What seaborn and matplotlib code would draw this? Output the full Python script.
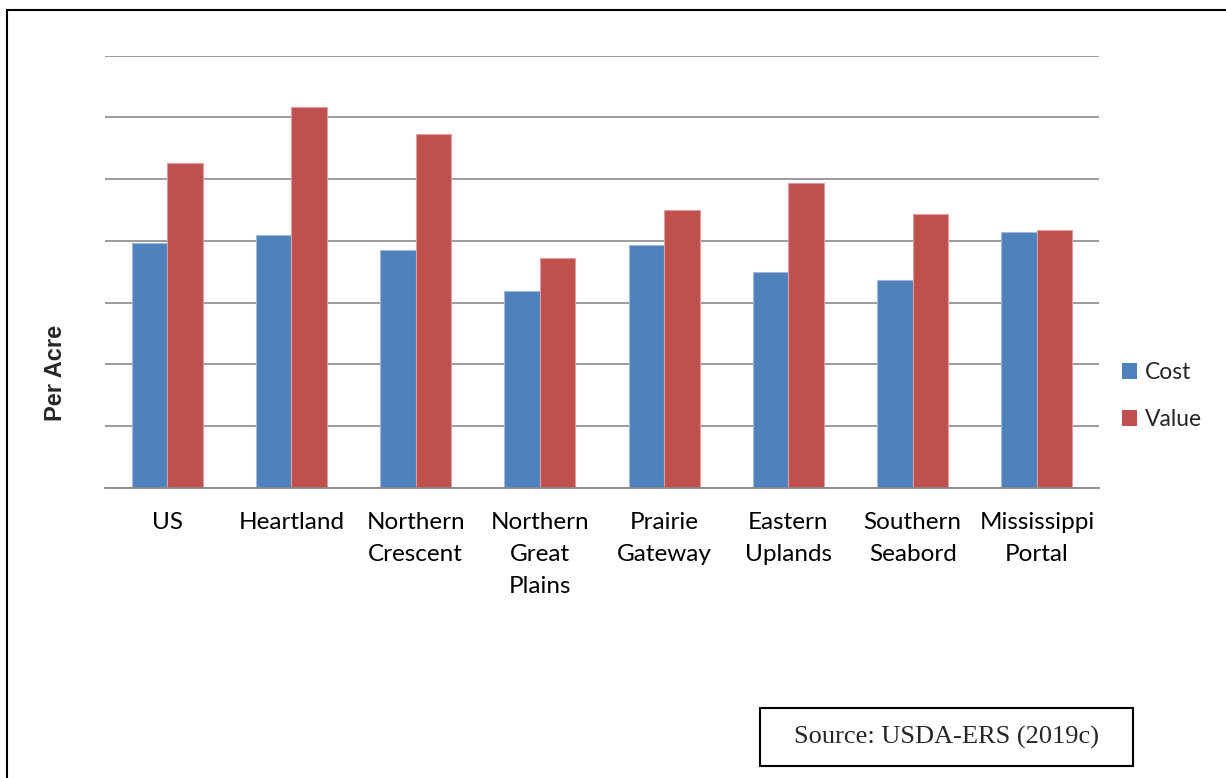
import numpy as np
import pandas as pd
import matplotlib
matplotlib.use("Agg")
import matplotlib.pyplot as plt
import matplotlib.colors as mcolors
import seaborn as sns
from matplotlib.patches import Rectangle, Patch
from matplotlib.lines import Line2D
from matplotlib.ticker import FixedLocator, MultipleLocator

# ---- data (y axis has no labels, units = gridline steps) ----
regions = ["US", "Heartland", "Northern\nCrescent", "Northern\nGreat\nPlains",
           "Prairie\nGateway", "Eastern\nUplands", "Southern\nSeabord", "Mississippi\nPortal"]
cost = [3.97, 4.10, 3.86, 3.19, 3.94, 3.50, 3.36, 4.14]
value = [5.26, 6.17, 5.73, 3.73, 4.50, 4.94, 4.43, 4.17]
series = ["Cost", "Value"]
colors = ["#4F81BD", "#C0504D"]
source_text = "Source: USDA-ERS (2019c)"

sns.set_style("white")
plt.rcParams["font.family"] = ["Lato", "DejaVu Sans"]

W, H = 1226, 778
fig = plt.figure(figsize=(W / 100, H / 100), dpi=100)
ax_left, ax_right, ax_top, ax_bottom = 105, 1099, 55.7, 488
ax = fig.add_axes([ax_left / W, 1 - ax_bottom / H, (ax_right - ax_left) / W, (ax_bottom - ax_top) / H])

df = pd.DataFrame({
    "Region": regions * 2,
    "Series": [series[0]] * len(regions) + [series[1]] * len(regions),
    "Amount": cost + value,
})
sns.barplot(data=df, x="Region", y="Amount", hue="Series", palette=colors,
            width=0.571, saturation=1, errorbar=None, ax=ax)

# light edges on bars like the original
for p in ax.patches:
    fc = np.array(mcolors.to_rgb(p.get_facecolor()))
    p.set_edgecolor(tuple(fc + (1 - fc) * 0.45))
    p.set_linewidth(0.8)

ax.set_xlim(-0.5, len(regions) - 0.5)
ax.set_ylim(0, 7)
ax.yaxis.set_major_locator(MultipleLocator(1))
ax.set_yticklabels([])
ax.tick_params(axis="y", length=0)
ax.grid(axis="y", color="#8a8a8a", linewidth=1.2)
ax.grid(axis="x", visible=False)
ax.set_axisbelow(True)
for s in ["left", "right", "top"]:
    ax.spines[s].set_visible(False)
ax.spines["bottom"].set_color("#8a8a8a")
ax.spines["bottom"].set_linewidth(1.3)

ax.xaxis.set_minor_locator(FixedLocator(np.arange(-0.5, len(regions), 1.0)))
ax.tick_params(axis="x", which="minor", length=5.5, width=1.2, color="#8a8a8a", direction="out")
ax.tick_params(axis="x", which="major", length=0, pad=17)
for t in ax.get_xticklabels():
    t.set_fontsize(17.5)
    t.set_linespacing(1.67)
    t.set_color("black")
ax.set_xlabel("")

ax.set_ylabel("Per Acre", fontsize=17, fontweight="bold", family=["Liberation Sans", "DejaVu Sans"])
ax.yaxis.set_label_coords((55 - ax_left) / (ax_right - ax_left), (ax_bottom - 373) / (ax_bottom - ax_top))
ax.yaxis.label.set_va("center")

handles = [Patch(facecolor=c, edgecolor="none") for c in colors]
ax.legend(handles, series, loc="center left", bbox_to_anchor=(1122 / W, 1 - 396 / H),
          bbox_transform=fig.transFigure, frameon=False, fontsize=16.5,
          handlelength=0.66, handleheight=0.66, handletextpad=0.35,
          labelspacing=1.15, borderpad=0, borderaxespad=0)

# source box
fig.add_artist(Rectangle((760 / W, 1 - 766 / H), (1133 - 760) / W, (766 - 707.5) / H,
                         transform=fig.transFigure, fill=False, edgecolor="black", linewidth=1.5))
fig.text(946 / W, 1 - 737 / H, source_text, family=["Liberation Serif", "DejaVu Serif"],
         fontsize=19, ha="center", va="center")

# outer frame (left and top edges visible)
fig.add_artist(Line2D([6.7 / W, 6.7 / W], [0, 1 - 9.7 / H], transform=fig.transFigure, color="black", linewidth=1.5))
fig.add_artist(Line2D([6.7 / W, 1], [1 - 9.7 / H, 1 - 9.7 / H], transform=fig.transFigure, color="black", linewidth=1.5))

fig.savefig("out.png", dpi=100)
